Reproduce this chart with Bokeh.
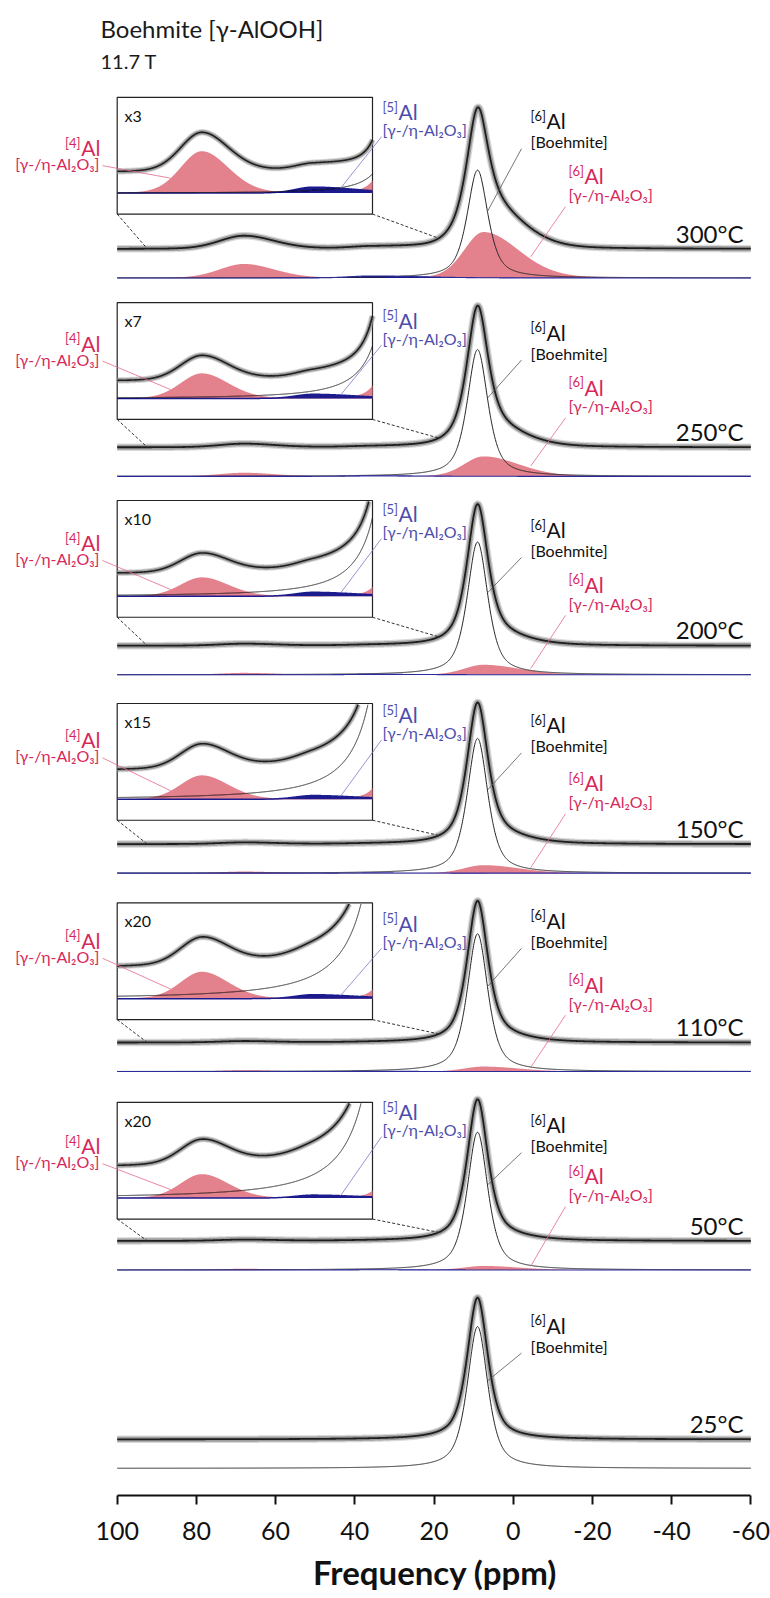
import numpy as np
from bokeh.plotting import figure
from bokeh.models import Range1d, FixedTicker, Title
from bokeh.core.properties import value
from bokeh.embed import file_html
from bokeh.resources import INLINE

# ---------------- values ----------------
temperatures = ["300°C", "250°C", "200°C", "150°C", "110°C", "50°C", "25°C"]
inset_labels = ["x3", "x7", "x10", "x15", "x20", "x20"]
inset_mag = [3, 7, 10, 15, 20, 20]

# [6]Al boehmite component (pseudo-Voigt)
boehmite_pos = 9.0
boehmite_hwhm = 3.1
boehmite_lorentz = 0.65
boehmite_height = [108, 127, 133, 135, 138, 138, 142]

# [6]Al gamma/eta-Al2O3 (asymmetric: high-ppm side, low-ppm side half widths)
al6_pos = 7.5
al6_hwhm = [5.8, 10.5]
al6_height = [46, 20, 10, 8, 5, 4, 0]

# [4]Al gamma/eta-Al2O3
al4_pos = 68.0
al4_hwhm = [7.3, 9.1]
al4_height = [14, 3.6, 1.9, 1.6, 1.35, 1.2, 0]

# [5]Al gamma/eta-Al2O3
al5_pos = 36.0
al5_hwhm = [6.0, 15.0]
al5_height = [2.0, 0.6, 0.4, 0.25, 0.2, 0.15, 0]

inset_ppm = [92.4, 18.8]
ppm_span = [100, -60]
tick_values = [100, 80, 60, 40, 20, 0, -20, -40, -60]
tick_labels = ["100", "80", "60", "40", "20", "0", "-20", "-40", "-60"]
x_title = "Frequency (ppm)"

# ---------------- layout ----------------
FONT = "Lato"
W, H = 770, 1598
FRAME_H = 1498
PX_100 = 116.7
PX_PER_PPM = 3.96
X_START = 100 + PX_100 / PX_PER_PPM
X_END = 100 - (W - PX_100) / PX_PER_PPM
INS_PX = (116.7, 372.0)
S_INS = (INS_PX[1] - INS_PX[0]) / (inset_ppm[0] - inset_ppm[1])
XI_START = inset_ppm[0] + INS_PX[0] / S_INS
XI_END = inset_ppm[0] - (W - INS_PX[0]) / S_INS

PANEL_TOP = 249.0
PANEL_STEP = 198.8
GRAY_OFF = 29.0
GRAY_PEAK = 142.0
box_bottom_off = [35, 28, 28.6, 24, 23, 22]
BOX_H = 117.0
INS_BASE_UP = 21.0
inset_gray_off = [21, 17, 22, 28, 30, 30]

# label centre heights above the gray baseline of each panel
boe_lab_up = [128.5, 115.5, 116.5, 119.5, 122.5, 116.5, 114.5]
red6_lab_up = [73.5, 60.5, 61.5, 61.5, 58.5, 65.5]
blue5_lab_up = [137.5, 127.5, 132.5, 129.5, 119.5, 129.5]
red4_lab_up = [101.5, 104.5, 103.5, 104.5, 102.5, 95.5]

RED_TXT = "#d6285a"
RED_FILL = "#e3828d"
BLUE_TXT = "#4d4dab"
BLUE_FILL = "#1b1b8e"
GRAY = "#8e8e8e"


def pv(x, pos, hw, eta):
    d = (x - pos) / hw
    return eta / (1 + d * d) + (1 - eta) * np.exp(-np.log(2) * d * d)


def asym(x, pos, hw, eta=0.15):
    w = np.where(x >= pos, hw[0], hw[1])
    return pv(x, pos, w, eta)


def comps(x, i):
    x = np.asarray(x, dtype=float)
    boe = boehmite_height[i] * pv(x, boehmite_pos, boehmite_hwhm, boehmite_lorentz)
    a6 = al6_height[i] * asym(x, al6_pos, al6_hwhm)
    a4 = al4_height[i] * asym(x, al4_pos, al4_hwhm)
    a5 = al5_height[i] * asym(x, al5_pos, al5_hwhm)
    return boe, a6, a4, a5


def px2x(px):
    return 100 - (px - PX_100) / PX_PER_PPM


def ppm2px(ppm):
    return PX_100 + (100 - ppm) * PX_PER_PPM


def ins_ppm2px(ppm):
    return INS_PX[0] + (inset_ppm[0] - ppm) * S_INS


def Y(py):
    return FRAME_H - py


p = figure(width=W, height=H, x_range=Range1d(X_START, X_END), y_range=Range1d(0, FRAME_H),
           output_backend="svg", toolbar_location=None, min_border_left=0, min_border_right=0,
           min_border_top=0, min_border_bottom=H - FRAME_H, y_axis_location=None)
p.outline_line_color = None
p.xgrid.visible = False
p.ygrid.visible = False
p.background_fill_color = "white"
p.border_fill_color = "white"
p.extra_x_ranges = {"ins": Range1d(XI_START, XI_END)}

ax = p.xaxis[0]
ax.ticker = FixedTicker(ticks=tick_values)
ax.major_label_overrides = {v: s for v, s in zip(tick_values, tick_labels)}
ax.bounds = (min(ppm_span), max(ppm_span))
ax.axis_line_width = 2
ax.axis_line_color = "#111111"
ax.major_tick_line_width = 2
ax.major_tick_line_color = "#111111"
ax.major_tick_in = 0
ax.major_tick_out = 9
ax.minor_tick_line_color = None
ax.major_label_text_font = FONT
ax.major_label_text_font_size = "25px"
ax.major_label_text_color = "#111111"
ax.major_label_standoff = 17

# x-axis title, centred under the 100..-60 span of the axis
p.add_layout(Title(text=x_title, align="left", offset=ppm2px(sum(ppm_span) / 2) - 121,
                   text_font=FONT, text_font_size="33px", text_font_style="bold",
                   text_color="#111111", standoff=14), "below")


def txt(x_px, py, s, size, color, align="left", style="normal"):
    p.text(x=[px2x(x_px)], y=[Y(py)], text=[s], text_font=value(FONT),
           text_font_size=f"{size}px", text_color=color, text_align=align,
           text_baseline="middle", text_font_style=style)


def sup_label(x_px, mid_py, sup, main, color, align="left"):
    sup_w, main_w = 16, 20
    if align == "left":
        txt(x_px, mid_py - 5, sup, 13, color)
        txt(x_px + sup_w, mid_py, main, 21, color)
    else:
        txt(x_px, mid_py, main, 21, color, align="right")
        txt(x_px - main_w, mid_py - 5, sup, 13, color, align="right")


def seg(x0, y0, x1, y1, color, width=0.8, dash="solid"):
    p.segment(x0=[px2x(x0)], y0=[Y(y0)], x1=[px2x(x1)], y1=[Y(y1)],
              line_color=color, line_width=width, line_dash=dash)


# titles
txt(100, 28, "Boehmite [γ-AlOOH]", 24, "#1a1a1a")
txt(100, 61, "11.7 T", 20, "#1a1a1a")

xm = np.linspace(ppm_span[0], ppm_span[1], 1601)
xi = np.linspace(inset_ppm[0], inset_ppm[1], 3681)

for i, temp in enumerate(temperatures):
    pyb = PANEL_TOP + PANEL_STEP * i          # gray baseline pixel
    pyc = pyb + GRAY_OFF                      # component baseline pixel
    rn = f"p{i}"
    p.extra_y_ranges[rn] = Range1d(pyc - FRAME_H, pyc)

    boe, a6, a4, a5 = comps(xm, i)
    total = boe + a6 + a4 + a5
    k = GRAY_PEAK / total.max()

    def gray_at(ppm):
        b_, c6, c4, c5 = comps([ppm], i)
        return pyc - (GRAY_OFF + k * (b_ + c6 + c4 + c5)[0])

    kw = dict(y_range_name=rn)
    if al4_height[i] > 0:
        p.varea(x=xm, y1=0, y2=a4, fill_color=RED_FILL, **kw)
    if al6_height[i] > 0:
        p.varea(x=xm, y1=0, y2=a6, fill_color=RED_FILL, **kw)
    if al5_height[i] > 0:
        p.varea(x=xm, y1=0, y2=a5, fill_color=BLUE_FILL, **kw)
    p.line(x=xm, y=boe, line_color="#222222", line_width=1, **kw)
    if al5_height[i] > 0:
        p.line(x=xm, y=a5, line_color="#2a2a9a", line_width=1.1, **kw)
    gy = GRAY_OFF + k * total
    p.line(x=xm, y=gy, line_color=GRAY, line_width=7.5, line_alpha=0.35, line_join="round", **kw)
    p.line(x=xm, y=gy, line_color=GRAY, line_width=5, line_alpha=0.8, line_join="round", **kw)
    p.line(x=xm, y=gy, line_color="#1e1e1e", line_width=1.8, line_join="round", **kw)

    # temperature
    txt(743, pyb - 16, temp, 24, "#111111", align="right")

    # boehmite label + leader
    bl = pyb - boe_lab_up[i]
    sup_label(530, bl, "[6]", "Al", "#111111")
    txt(530, bl + 21, "[Boehmite]", 16, "#111111")
    end_ppm = 6.5
    b_end = comps([end_ppm], i)[0][0]
    seg(521, bl + 28, ppm2px(end_ppm), pyc - b_end, "#555555")

    if i >= len(inset_mag):
        continue

    # [6]Al gamma label + leader
    rl = pyb - red6_lab_up[i]
    sup_label(568, rl, "[6]", "Al", RED_TXT)
    txt(568, rl + 19, "[γ-/η-Al₂O₃]", 16, RED_TXT)
    r_end_ppm = -4.4
    r_end = comps([r_end_ppm], i)[1][0]
    seg(565, rl + 31, ppm2px(r_end_ppm), pyc - r_end - 2, "#e36a8a")

    # ---------------- inset ----------------
    M = inset_mag[i]
    box_b = pyb - box_bottom_off[i]
    box_t = box_b - BOX_H
    pyi = box_b - INS_BASE_UP
    irn = f"i{i}"
    p.extra_y_ranges[irn] = Range1d((pyi - FRAME_H) / M, pyi / M)
    ikw = dict(x_range_name="ins", y_range_name=irn)
    top_val = (pyi - box_t - 1) / M

    p.quad(left=[inset_ppm[0]], right=[inset_ppm[1]], top=[Y(box_t)], bottom=[Y(box_b)],
           x_range_name="ins", fill_color="white", line_color="#222222", line_width=1.2)

    iboe, ia6, ia4, ia5 = comps(xi, i)
    itot = iboe + ia6 + ia4 + ia5
    if al4_height[i] > 0:
        p.varea(x=xi, y1=0, y2=np.minimum(ia4, top_val), fill_color=RED_FILL, **ikw)
    p.varea(x=xi, y1=0, y2=np.minimum(ia6, top_val), fill_color=RED_FILL, **ikw)
    p.varea(x=xi, y1=0, y2=np.minimum(ia5, top_val), fill_color=BLUE_FILL, **ikw)
    p.line(x=xi, y=ia5, line_color="#1b1b8e", line_width=1.5, **ikw)
    bclip = np.where(iboe > top_val, np.nan, iboe)
    p.line(x=xi, y=bclip, line_color="#222222", line_width=1, **ikw)
    ig = inset_gray_off[i] / M + k * itot
    ig = np.where(ig > top_val, np.nan, ig)
    p.line(x=xi, y=ig, line_color=GRAY, line_width=6.5, line_alpha=0.35, **ikw)
    p.line(x=xi, y=ig, line_color=GRAY, line_width=4.5, line_alpha=0.8, **ikw)
    p.line(x=xi, y=ig, line_color="#1e1e1e", line_width=1.6, **ikw)

    txt(124, box_t + 18, inset_labels[i], 16, "#111111")

    # dashed connectors from inset corners to the spectrum
    seg(INS_PX[0], box_b, ppm2px(inset_ppm[0]), gray_at(inset_ppm[0]), "#333333", 1, "3 2")
    seg(INS_PX[1], box_b, ppm2px(inset_ppm[1]), gray_at(inset_ppm[1]), "#333333", 1, "3 2")

    # [5]Al label + leader into inset
    bll = pyb - blue5_lab_up[i]
    sup_label(382, bll, "[5]", "Al", BLUE_TXT)
    txt(382, bll + 18, "[γ-/η-Al₂O₃]", 16, BLUE_TXT)
    b5_ppm = 28.0
    b5v = comps([b5_ppm], i)[3][0]
    seg(381, bll + 25, ins_ppm2px(b5_ppm), pyi - M * b5v, "#7a7ac4")

    # [4]Al label + leader into inset
    r4 = pyb - red4_lab_up[i]
    sup_label(100, r4, "[4]", "Al", RED_TXT, align="right")
    txt(99, r4 + 16, "[γ-/η-Al₂O₃]", 16, RED_TXT, align="right")
    a4_ppm = 77.0
    a4v = comps([a4_ppm], i)[2][0]
    seg(102, r4 + 18, ins_ppm2px(a4_ppm), pyi - M * a4v, "#e36a8a")

open("out.html", "w").write(file_html(p, INLINE))
